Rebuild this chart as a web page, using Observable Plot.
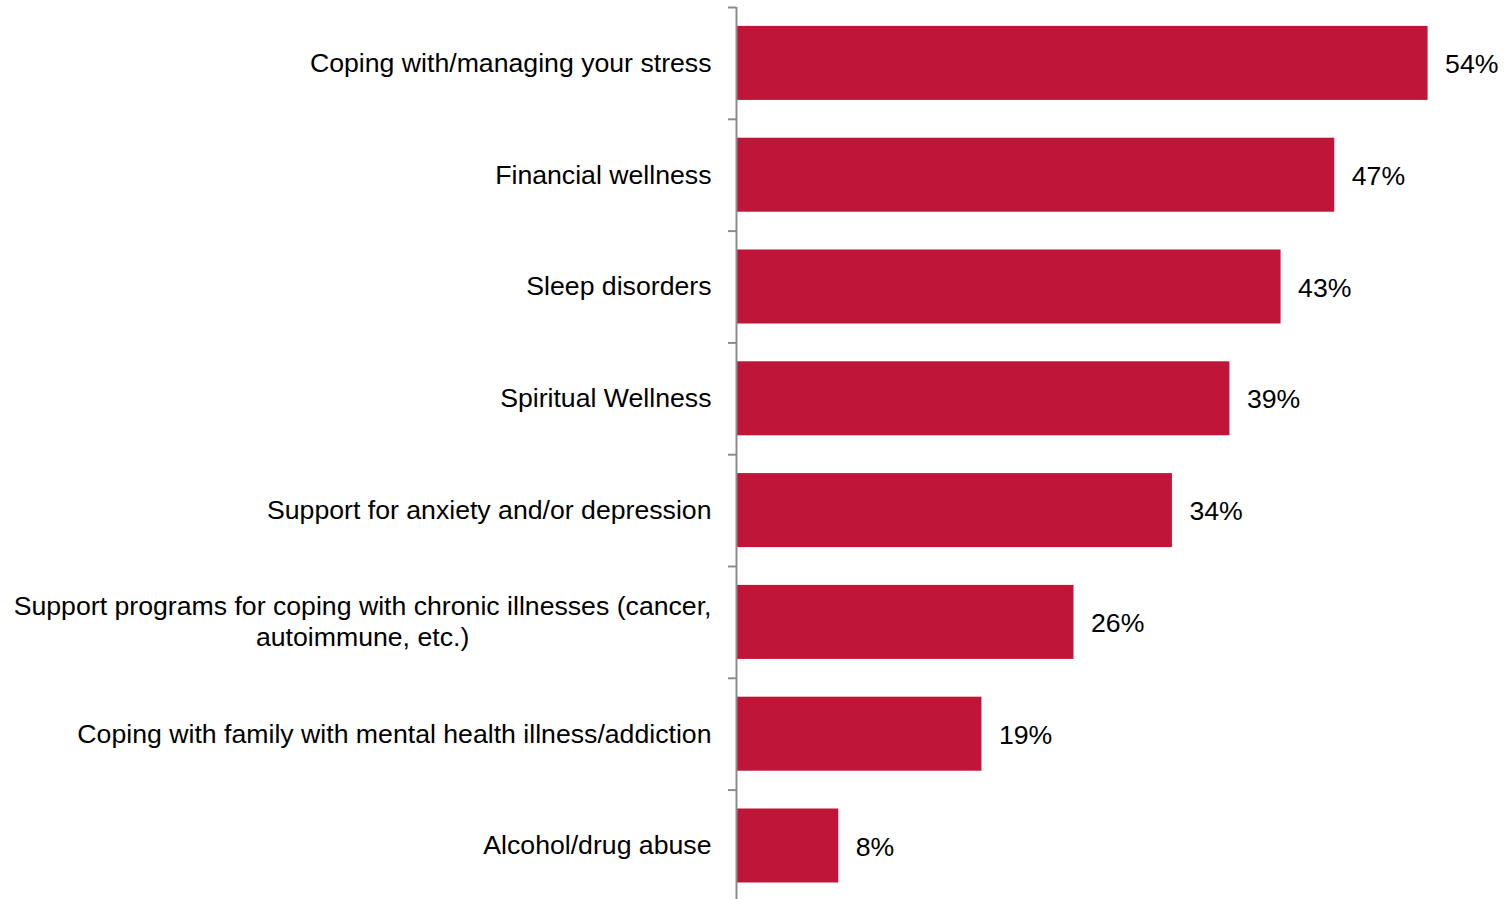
<!DOCTYPE html>
<html>
<head>
<meta charset="utf-8">
<script src="https://cdn.jsdelivr.net/npm/d3@7"></script>
<script src="https://cdn.jsdelivr.net/npm/@observablehq/plot@0.6"></script>
<style>
  html, body { margin: 0; padding: 0; background: #fff; }
  svg { display: block; }
</style>
</head>
<body>
<div id="chart"></div>
<script>
const categories = [
  "Coping with/managing your stress",
  "Financial wellness",
  "Sleep disorders",
  "Spiritual Wellness",
  "Support for anxiety and/or depression",
  "Support programs for coping with chronic illnesses (cancer,\nautoimmune, etc.)",
  "Coping with family with mental health illness/addiction",
  "Alcohol/drug abuse"
];
const values = [54.1, 46.8, 42.6, 38.6, 34.1, 26.4, 19.2, 8.0];

const data = categories.map((c, i) => ({category: c, value: values[i]}));

// The last category band extends slightly past the bottom edge of the canvas
const W = 1507, H = 899, mTop = 7, mBottom = -2.4, mLeft = 736, mRight = 4;
const step = (H - mTop - mBottom) / categories.length;
const barColor = "#BE1539";
const axisColor = "#8C8C8C";
const font = "'Liberation Sans', Arial, sans-serif";
const fs = 26.67;

const chart = Plot.plot({
  width: W,
  height: H,
  marginTop: mTop,
  marginBottom: mBottom,
  marginLeft: mLeft,
  marginRight: mRight,
  style: {fontFamily: font, fontSize: fs + "px", color: "#000", background: "#fff"},
  x: {domain: [0, 60], axis: null},
  y: {domain: categories, paddingInner: 0.338, paddingOuter: 0.169, round: false, axis: null},
  marks: [
    Plot.barX(data, {y: "category", x: "value", fill: barColor}),
    Plot.text(data, {
      y: "category", x: "value", text: d => Math.round(d.value) + "%",
      dx: 17, dy: 1, textAnchor: "start", fontSize: fs, fill: "#000"
    }),
    Plot.text(categories, {
      y: d => d, x: 0, dx: -25, dy: -1.5, textAnchor: "end", lineAnchor: "middle",
      lineHeight: 1.16, fontSize: fs, fill: "#000"
    }),
    Plot.ruleX([0], {stroke: axisColor, strokeWidth: 2}),
    Plot.ruleY(categories, {y: d => d, x1: 0, x2: 0, insetLeft: -8, dy: -step / 2, stroke: axisColor, strokeWidth: 2})
  ]
});

document.getElementById("chart").appendChild(chart);

// Center the lines of multi-line category labels within their block (right-aligned block)
chart.querySelectorAll("text").forEach(t => {
  const spans = t.querySelectorAll("tspan");
  if (spans.length > 1) {
    const bb = t.getBBox();
    const cx = bb.x + bb.width / 2;
    t.setAttribute("text-anchor", "middle");
    spans.forEach(s => s.setAttribute("x", cx));
  }
});
</script>
</body>
</html>
